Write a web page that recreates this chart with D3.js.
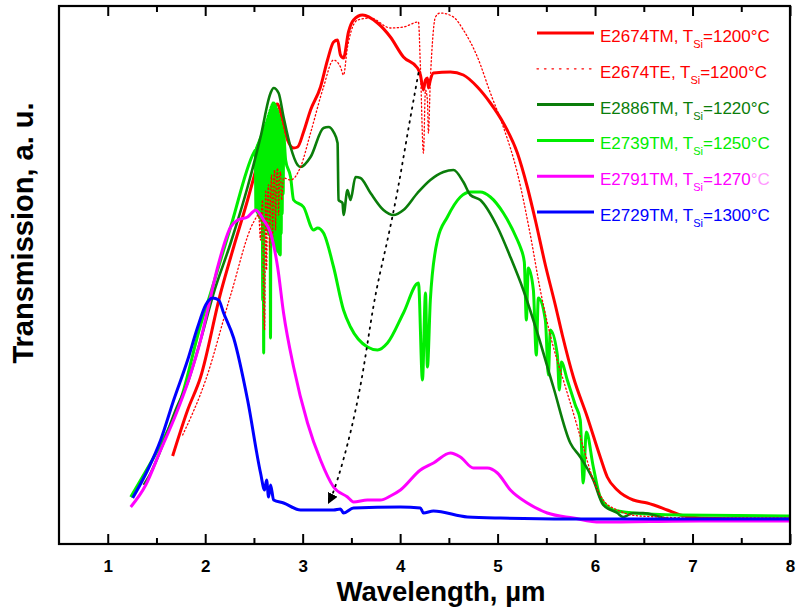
<!DOCTYPE html>
<html><head><meta charset="utf-8">
<script src="https://cdn.jsdelivr.net/npm/d3@7"></script>
<style>body{margin:0;background:#fff}svg{display:block}</style>
</head><body>
<svg id="c" width="796" height="612"></svg>
<script>
// [wavelength (µm), transmission (a.u.)]
const e2674TM = [[1.666,17.6],[1.82,26.8],[1.953,33.4],[2.158,50.2],[2.292,59.4],[2.435,68.8],[2.538,76.2],[2.62,82.8],[2.691,87.2],[2.743,88.0],[2.784,85.4],[2.845,80.8],[2.907,79.2],[2.948,79.4],[3.009,82.4],[3.081,86.8],[3.183,91.4],[3.255,96.8],[3.317,100.4],[3.358,100.8],[3.388,97.8],[3.419,97.2],[3.47,102.4],[3.522,104.8],[3.614,105.8],[3.768,104.2],[3.9,101.4],[4.034,97.4],[4.178,95.2],[4.208,93.8],[4.239,90.8],[4.26,92.8],[4.28,93.2],[4.29,91.2],[4.31,92.8],[4.342,94.2],[4.516,94.4],[4.649,93.8],[4.793,91.4],[4.926,88.2],[5.059,84.2],[5.203,78.2],[5.305,71.4],[5.387,64.8],[5.49,55.8],[5.592,47.8],[5.664,41.8],[5.777,33.4],[5.92,25.4],[6.053,17.4],[6.125,13.4],[6.228,10.8],[6.392,8.8],[6.535,8.2],[6.74,6.8],[6.873,5.8],[7.078,5.2],[7.59,5.0],[7.99,5.0]];
const e2674TE = [[1.769,21.8],[2.005,32.8],[2.261,49.8],[2.497,64.4],[2.548,65.8],[2.568,60.8],[2.579,67.0],[2.589,68.8],[2.599,48.8],[2.609,42.8],[2.62,70.8],[2.63,54.8],[2.64,69.5],[2.65,71.8],[2.661,58.8],[2.671,70.0],[2.681,73.8],[2.691,60.8],[2.702,72.0],[2.712,74.8],[2.722,62.8],[2.732,73.0],[2.743,75.2],[2.753,65.8],[2.763,73.5],[2.773,74.4],[2.784,68.8],[2.804,73.2],[2.876,72.8],[2.978,75.4],[3.081,82.2],[3.214,91.4],[3.317,96.8],[3.388,95.4],[3.419,93.8],[3.46,99.4],[3.563,104.8],[3.696,105.2],[3.901,103.2],[4.034,103.4],[4.188,104.4],[4.208,95.4],[4.239,78.2],[4.26,90.8],[4.28,88.8],[4.29,82.2],[4.31,92.8],[4.331,100.2],[4.362,105.4],[4.413,106.2],[4.547,105.4],[4.649,102.8],[4.793,97.4],[4.926,90.2],[5.059,83.4],[5.203,74.2],[5.336,61.8],[5.438,50.8],[5.572,39.4],[5.674,32.8],[5.777,26.2],[5.879,19.4],[5.982,12.8],[6.084,8.8],[6.228,6.8],[6.463,5.6],[7.078,5.2],[7.99,5.2]];
const e2886TM = [[1.369,11.8],[1.42,13.4],[1.543,18.8],[1.697,26.8],[1.83,32.8],[1.953,40.8],[2.087,50.2],[2.261,60.2],[2.435,71.4],[2.568,81.4],[2.671,90.2],[2.702,91.2],[2.753,90.2],[2.804,85.4],[2.876,79.4],[2.948,75.8],[2.978,75.4],[3.081,77.4],[3.214,83.2],[3.265,83.4],[3.317,82.4],[3.358,80.2],[3.368,68.8],[3.409,68.2],[3.419,65.8],[3.46,70.8],[3.491,68.8],[3.542,73.4],[3.593,73.2],[3.696,70.2],[3.829,66.8],[3.932,65.8],[4.034,66.8],[4.178,70.2],[4.31,72.8],[4.444,74.4],[4.547,74.8],[4.649,72.4],[4.721,69.8],[4.823,68.8],[4.998,63.4],[5.131,57.4],[5.264,50.8],[5.408,42.2],[5.572,31.4],[5.746,20.2],[5.848,17.4],[5.982,12.8],[6.084,7.8],[6.228,6.2],[6.289,5.4],[6.392,6.2],[6.494,6.2],[6.668,5.4],[6.801,4.8],[7.078,5.0],[7.99,5.0]];
const e2739TM = [[1.236,9.4],[1.338,12.8],[1.513,18.8],[1.748,28.8],[1.953,43.8],[2.056,50.2],[2.261,63.4],[2.497,78.2],
  [2.515,78.8],[2.52,66.8],[2.525,79.3],[2.53,66.4],[2.535,79.8],[2.54,66.0],[2.545,80.3],[2.55,65.6],[2.555,80.8],[2.56,65.2],[2.565,81.3],[2.57,64.8],[2.575,81.8],[2.58,64.4],[2.585,82.3],[2.59,48.8],[2.595,82.8],[2.6,38.2],[2.605,83.2],[2.61,63.8],[2.615,83.8],[2.62,63.4],[2.625,84.3],[2.63,63.0],[2.635,85.0],[2.64,62.6],[2.645,85.6],[2.65,62.2],[2.655,86.2],[2.66,61.8],[2.665,86.8],[2.67,41.2],[2.675,87.4],[2.68,61.0],[2.685,87.9],[2.69,60.6],[2.695,88.2],[2.7,60.2],[2.705,88.2],[2.71,59.8],[2.715,88.0],[2.72,59.4],[2.725,87.6],[2.73,59.0],[2.735,87.0],[2.74,58.6],[2.745,86.6],[2.75,58.4],[2.755,85.8],[2.76,58.0],[2.765,85.2],[2.77,57.8],[2.775,84.4],[2.78,62.0],[2.785,83.6],[2.79,66.0],[2.795,82.8],[2.8,70.0],[2.805,81.8],
  [2.825,76.8],[2.876,73.4],[2.907,68.8],[3.009,67.4],[3.112,62.8],[3.153,63.2],[3.214,62.2],[3.317,55.4],[3.419,46.8],[3.491,43.4],[3.665,39.4],[3.768,38.8],[3.87,40.2],[4.034,46.2],[4.188,52.2],[4.229,32.8],[4.26,50.2],[4.28,35.4],[4.31,48.8],[4.383,60.8],[4.485,65.4],[4.618,69.4],[4.721,70.4],[4.823,70.4],[4.926,69.4],[5.059,66.2],[5.203,60.8],[5.233,59.4],[5.274,56.4],[5.295,44.8],[5.315,55.2],[5.367,50.8],[5.397,37.8],[5.418,49.2],[5.49,44.8],[5.521,33.8],[5.541,42.8],[5.613,37.8],[5.633,30.8],[5.654,36.4],[5.715,32.8],[5.797,27.8],[5.848,24.8],[5.879,12.2],[5.91,22.4],[5.982,15.4],[6.053,9.4],[6.187,6.8],[6.392,6.2],[6.873,5.8],[7.99,5.6]];
const e2791TM = [[1.236,7.4],[1.39,11.8],[1.543,18.8],[1.697,25.8],[1.83,32.8],[1.953,40.8],[2.025,46.8],[2.128,55.4],[2.261,63.4],[2.333,64.8],[2.435,65.4],[2.487,66.4],[2.517,66.8],[2.599,64.8],[2.671,62.2],[2.743,55.4],[2.804,46.2],[2.907,35.4],[3.05,24.2],[3.183,16.8],[3.317,11.4],[3.46,9.4],[3.522,8.4],[3.665,8.8],[3.798,8.8],[3.9,9.6],[4.003,10.8],[4.208,14.8],[4.342,16.2],[4.516,18.2],[4.618,17.4],[4.752,15.2],[4.895,15.2],[4.998,14.2],[5.131,10.8],[5.305,8.2],[5.51,6.2],[5.777,5.2],[6.053,4.4],[7.078,4.6],[7.99,4.6]];
const e2729TM = [[1.256,9.2],[1.41,14.8],[1.543,20.8],[1.677,28.8],[1.82,36.8],[1.923,43.4],[2.005,47.8],[2.076,49.2],[2.138,48.8],[2.189,46.2],[2.292,41.2],[2.435,28.8],[2.568,14.2],[2.609,10.8],[2.63,12.8],[2.65,9.4],[2.671,11.8],[2.702,8.8],[2.804,8.2],[2.978,6.8],[3.317,6.8],[3.388,7.0],[3.419,6.2],[3.522,7.2],[4.003,7.4],[4.208,7.2],[4.239,6.2],[4.342,6.6],[4.69,5.4],[5.028,5.2],[6.053,5.0],[7.99,5.0]];
const arrowPath = [[4.188,94.2],[4.076,82.2],[3.973,70.2],[3.85,58.8],[3.727,48.8],[3.614,32.8],[3.46,19.4],[3.317,10.2],[3.265,8.2]];

const xTicks = [1,2,3,4,5,6,7,8];
const xMinor = [1.5,2.5,3.5,4.5,5.5,6.5,7.5];
const legendNames = ["E2674TM","E2674TE","E2886TM","E2739TM","E2791TM","E2729TM"];
const legendTemps = ["1200","1200","1220","1250","1270","1300"];

const series = [
  {data:e2674TM, color:"#ff0000", w:3, dash:null},
  {data:e2739TM, color:"#00ee00", w:3, dash:null},
  {data:e2886TM, color:"#0a7d0a", w:2.6, dash:null},
  {data:e2674TE, color:"#ff0000", w:1.3, dash:"1.3,2.5"},
  {data:e2791TM, color:"#ff00ff", w:3, dash:null},
  {data:e2729TM, color:"#0000ff", w:3, dash:null}
];
const legendStyle = [
  {color:"#ff0000", dash:null, w:3},
  {color:"#ff0000", dash:"1.5,6", w:1.3},
  {color:"#0a7d0a", dash:null, w:3},
  {color:"#00ee00", dash:null, w:3},
  {color:"#ff00ff", dash:null, w:3},
  {color:"#0000ff", dash:null, w:3}
];

const svg = d3.select("#c");
const L=59, R=790, T=6, B=544;
const x = d3.scaleLinear().domain([0.5,8]).range([L,R]);
const y = d3.scaleLinear().domain([0,107.6]).range([B,T]);
const line = d3.line().x(d=>x(d[0])).y(d=>y(d[1])).curve(d3.curveMonotoneX);

const plot = svg.append("g");
series.forEach(s=>{
  const p = plot.append("path").datum(s.data).attr("d",line)
    .attr("fill","none").attr("stroke",s.color).attr("stroke-width",s.w)
    .attr("stroke-linejoin","round").attr("stroke-linecap", s.dash?"round":"butt");
  if(s.dash) p.attr("stroke-dasharray",s.dash);
});

// arrow
svg.append("defs").append("marker").attr("id","ah").attr("viewBox","0 0 10 10")
  .attr("refX",9).attr("refY",5).attr("markerWidth",6).attr("markerHeight",6)
  .attr("markerUnits","strokeWidth").attr("orient","auto")
  .append("path").attr("d","M0,0 L10,5 L0,10 z").attr("fill","#000");
plot.append("path").datum(arrowPath).attr("d",d3.line().x(d=>x(d[0])).y(d=>y(d[1])).curve(d3.curveBasis))
  .attr("fill","none").attr("stroke","#000").attr("stroke-width",1.8)
  .attr("stroke-dasharray","1.6,5.4").attr("stroke-linecap","round")
  .attr("marker-end","url(#ah)");

// axes
const fontB = "'Liberation Sans', Arial, sans-serif";
const ax = svg.append("g").attr("transform",`translate(0,${B})`)
  .call(d3.axisBottom(x).tickValues(xTicks).tickSize(-10).tickPadding(16).tickFormat(d3.format("d")));
ax.select(".domain").remove();
ax.selectAll("line").attr("stroke","#000").attr("stroke-width",2);
ax.selectAll("text").attr("font-family",fontB).attr("font-weight","bold").attr("font-size",17).attr("fill","#000");
const axm = svg.append("g").attr("transform",`translate(0,${B})`)
  .call(d3.axisBottom(x).tickValues(xMinor).tickSize(-6).tickFormat(""));
axm.select(".domain").remove();
axm.selectAll("line").attr("stroke","#000").attr("stroke-width",2);
const at = svg.append("g").attr("transform",`translate(0,${T})`)
  .call(d3.axisTop(x).tickValues(xTicks).tickSize(-10).tickFormat(""));
at.select(".domain").remove();
at.selectAll("line").attr("stroke","#000").attr("stroke-width",2);
const atm = svg.append("g").attr("transform",`translate(0,${T})`)
  .call(d3.axisTop(x).tickValues(xMinor).tickSize(-6).tickFormat(""));
atm.select(".domain").remove();
atm.selectAll("line").attr("stroke","#000").attr("stroke-width",2);

svg.append("rect").attr("x",L).attr("y",T).attr("width",R-L).attr("height",B-T)
  .attr("fill","none").attr("stroke","#000").attr("stroke-width",2.2);

// axis titles
svg.append("text").attr("x",441).attr("y",601).attr("text-anchor","middle")
  .attr("font-family",fontB).attr("font-weight","bold").attr("font-size",27.5).text("Wavelength, µm");
svg.append("text").attr("transform","translate(33,233) rotate(-90)").attr("text-anchor","middle")
  .attr("font-family",fontB).attr("font-weight","bold").attr("font-size",29).text("Transmission, a. u.");

// legend
const lg = svg.append("g");
legendNames.forEach((n,i)=>{
  const ly = 33 + i*35.8;
  const st = legendStyle[i];
  const l = lg.append("line").attr("x1",537).attr("x2",594).attr("y1",ly).attr("y2",ly)
    .attr("stroke",st.color).attr("stroke-width",st.w);
  if(st.dash) l.attr("stroke-dasharray",st.dash).attr("stroke-linecap","round");
  const t = lg.append("text").attr("x",600).attr("y",ly+9).attr("font-family",fontB)
    .attr("font-size",17).attr("fill",st.color);
  t.append("tspan").text(n+", T");
  t.append("tspan").attr("font-size",11).attr("dy",6).text("Si");
  if(i===4){
    t.append("tspan").attr("dy",-6).text("="+legendTemps[i]);
    t.append("tspan").attr("fill","#ff99ff").text("°C");
  } else {
    t.append("tspan").attr("dy",-6).text("="+legendTemps[i]+"°C");
  }
});
</script>
</body></html>
